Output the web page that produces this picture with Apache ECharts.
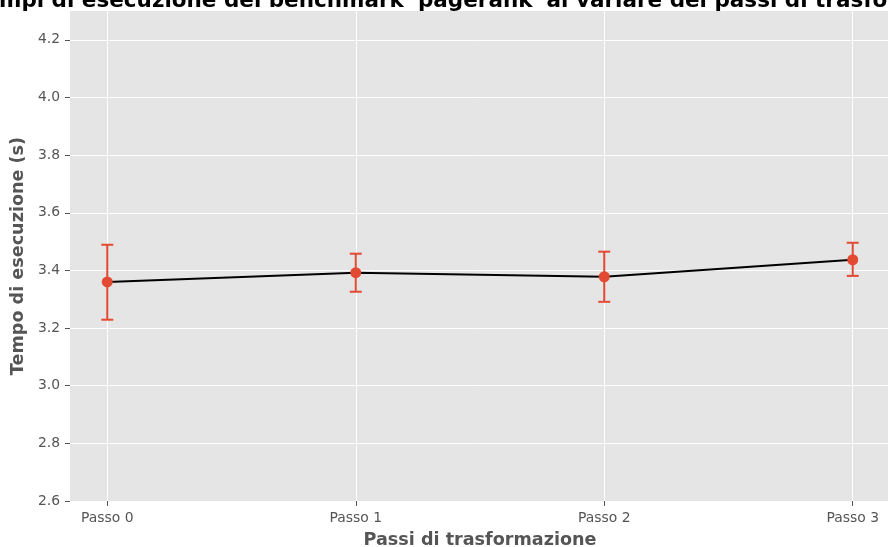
<!DOCTYPE html>
<html>
<head>
<meta charset="utf-8">
<script src="https://cdn.jsdelivr.net/npm/echarts@6/dist/echarts.min.js"></script>
<style>html,body{margin:0;padding:0;background:#fff}#c{width:888px;height:547px}</style>
</head>
<body>
<div id="c"></div>
<script>
const categories = ['Passo 0', 'Passo 1', 'Passo 2', 'Passo 3'];
const means = [3.360, 3.392, 3.378, 3.437];
const errLow = [3.229, 3.326, 3.291, 3.381];
const errHigh = [3.489, 3.458, 3.465, 3.496];
const yTicks = [2.6, 2.8, 3.0, 3.2, 3.4, 3.6, 3.8, 4.0, 4.2];

const FONT = 'DejaVu Sans';
const chart = echarts.init(document.getElementById('c'), null, {renderer: 'canvas'});
const xIdx = categories.map((_, i) => i);
chart.setOption({
  animation: false,
  title: {
    text: "Tempi di esecuzione del benchmark 'pagerank' al variare dei passi di trasformazione",
    left: 481, top: -15, textAlign: 'center',
    textStyle: {fontFamily: FONT, fontSize: 21.5, fontWeight: 'bold', color: '#000'}
  },
  grid: {left: 70, top: 11, width: 820, height: 490, show: true, backgroundColor: '#E5E5E5', borderWidth: 0, containLabel: false, outerBoundsMode: 'none'},
  xAxis: {
    type: 'value', min: -0.15, max: 3.15,
    name: 'Passi di trasformazione', nameLocation: 'middle', nameGap: 30,
    nameTextStyle: {fontFamily: FONT, fontSize: 17.6, fontWeight: 'bold', color: '#555'},
    axisLine: {show: false, onZero: false},
    axisTick: {show: true, length: 5, lineStyle: {color: '#555', width: 1}, customValues: xIdx},
    axisLabel: {customValues: xIdx, formatter: v => categories[Math.round(v)] ?? '', margin: 10,
      fontFamily: FONT, fontSize: 13.9, color: '#555'},
    splitLine: {show: true, lineStyle: {color: '#fff', width: 1}}
  },
  yAxis: {
    type: 'value', min: 2.6, max: 4.3,
    name: 'Tempo di esecuzione (s)', nameLocation: 'middle', nameGap: 40,
    nameTextStyle: {fontFamily: FONT, fontSize: 17.6, fontWeight: 'bold', color: '#555'},
    axisLine: {show: false, onZero: false},
    axisTick: {show: true, length: 5, lineStyle: {color: '#555', width: 1}, customValues: yTicks},
    axisLabel: {customValues: yTicks, formatter: v => v.toFixed(1), margin: 10,
      fontFamily: FONT, fontSize: 13.9, color: '#555'},
    splitLine: {show: true, lineStyle: {color: '#fff', width: 1}}
  },
  series: [
    {
      type: 'custom',
      data: xIdx.map(i => [i, errLow[i], errHigh[i]]),
      renderItem: (params, api) => {
        const lo = api.coord([api.value(0), api.value(1)]);
        const hi = api.coord([api.value(0), api.value(2)]);
        const c = 6;
        const st = {stroke: '#E24A33', lineWidth: 2};
        return {type: 'group', children: [
          {type: 'line', shape: {x1: lo[0], y1: lo[1], x2: hi[0], y2: hi[1]}, style: st},
          {type: 'line', shape: {x1: lo[0]-c, y1: lo[1], x2: lo[0]+c, y2: lo[1]}, style: st},
          {type: 'line', shape: {x1: hi[0]-c, y1: hi[1], x2: hi[0]+c, y2: hi[1]}, style: st}
        ]};
      },
      z: 2
    },
    {
      type: 'line',
      data: xIdx.map(i => [i, means[i]]),
      lineStyle: {color: '#000', width: 2},
      symbol: 'circle', symbolSize: 11,
      itemStyle: {color: '#E24A33'},
      z: 3
    }
  ]
});
</script>
</body>
</html>
